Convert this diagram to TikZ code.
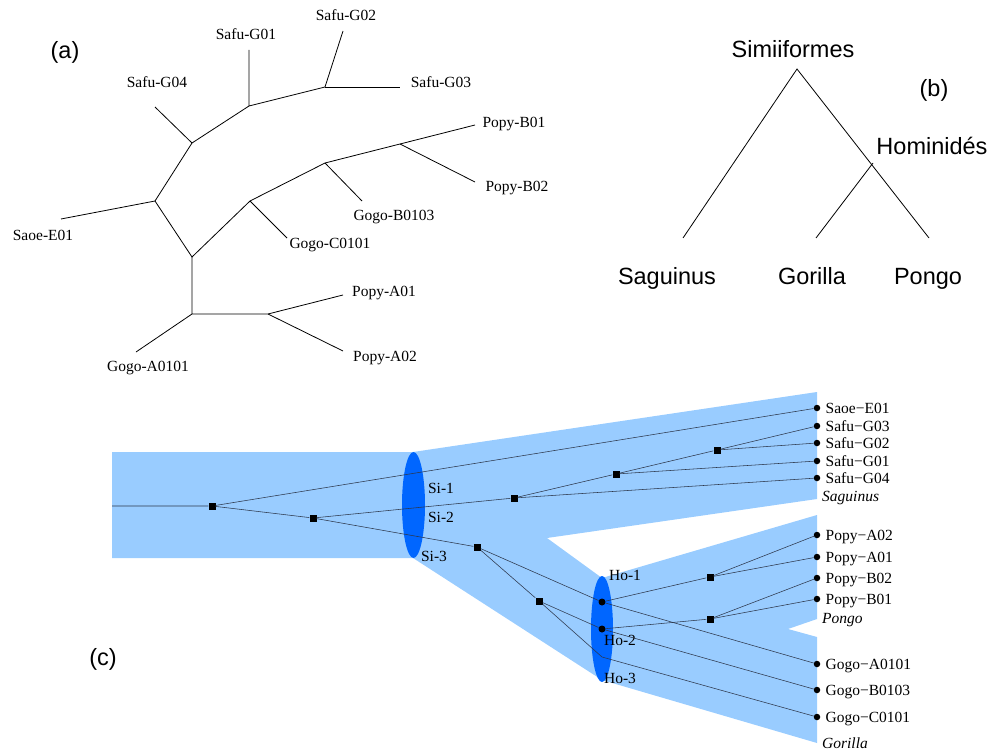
\documentclass[tikz,border=0pt]{standalone}
\usepackage{fontspec}
\setmainfont{Liberation Serif}
\setsansfont{Liberation Sans}
\usetikzlibrary{positioning}
\definecolor{bande}{RGB}{153,204,255}
\definecolor{ovale}{RGB}{0,102,255}
\definecolor{trait}{RGB}{45,55,75}
\begin{document}
\begin{tikzpicture}[x=1pt,y=-1pt,font=\fontsize{15.5}{18}\selectfont,
		etiq/.style={inner sep=0pt,text height=10pt,text depth=0pt},
		titre/.style={inner sep=0pt,font=\sffamily\fontsize{23.5}{28}\selectfont,text height=17pt,text depth=0pt},
		branche/.style={line width=0.8pt},
		lien/.style={draw=trait,line width=0.55pt},
		carre/.style={fill=black,minimum size=7pt,inner sep=0pt},
		rond/.style={circle,fill=black,minimum size=6.5pt,inner sep=0pt},
		espece/.style={etiq,anchor=west,font=\itshape\fontsize{15.5}{18}\selectfont}]
		\useasboundingbox (0,0) rectangle (994,752);
		% (a)
		\node[titre] (ta) at (65,50) {(a)};
		\coordinate (a1) at (249,106);
		\coordinate (a2) at (325,87);
		\coordinate (a3) at (192,143);
		\coordinate (a4) at (155,201);
		\coordinate (a5) at (192,257);
		\coordinate (a6) at (250,201);
		\coordinate (a7) at (325,163);
		\coordinate (a8) at (400,144);
		\coordinate (a9) at (192,314);
		\coordinate (a10) at (268,314);
		\coordinate (fG01) at (249,50);
		\coordinate (fG02) at (343,31);
		\coordinate (fG03) at (400,87);
		\coordinate (fG04) at (155,107);
		\coordinate (fE01) at (61,219);
		\coordinate (fC0101) at (287,238);
		\coordinate (fB0103) at (362,201);
		\coordinate (fB01) at (475,125);
		\coordinate (fB02) at (475,182);
		\coordinate (fA01) at (343,295);
		\coordinate (fA02) at (343,351);
		\coordinate (fA0101) at (136,352);
		\draw[branche] (fG01) -- (a1) -- (a2) -- (fG02);
		\draw[branche] (a2) -- (fG03);
		\draw[branche] (fG04) -- (a3) -- (a1);
		\draw[branche] (fE01) -- (a4) -- (a3);
		\draw[branche] (a4) -- (a5) -- (a6) -- (a7) -- (a8) -- (fB01);
		\draw[branche] (a6) -- (fC0101);
		\draw[branche] (a7) -- (fB0103);
		\draw[branche] (a8) -- (fB02);
		\draw[branche] (a5) -- (a9) -- (a10) -- (fA01);
		\draw[branche] (a10) -- (fA02);
		\draw[branche] (a9) -- (fA0101);
		\node[etiq] (lG01) at (246,35) {Safu-G01};
		\node[etiq] (lG02) at (346,16) {Safu-G02};
		\node[etiq] (lG03) at (441,83) {Safu-G03};
		\node[etiq] (lG04) at (157,83) {Safu-G04};
		\node[etiq] (lE01) at (43,235) {Saoe-E01};
		\node[etiq] (lC0101) at (330,243) {Gogo-C0101};
		\node[etiq] (lB0103) at (394,215) {Gogo-B0103};
		\node[etiq] (lB01) at (514,122) {Popy-B01};
		\node[etiq] (lB02) at (517,186) {Popy-B02};
		\node[etiq] (lA01) at (384,291) {Popy-A01};
		\node[etiq] (lA02) at (385,356) {Popy-A02};
		\node[etiq] (lA0101) at (148,366) {Gogo-A0101};
		% (b)
		\node[titre] (tb) at (934,88) {(b)};
		\node[titre] (simi) at (793,49) {Simiiformes};
		\node[titre] (homi) at (932,146) {Hominidés};
		\coordinate (b0) at (797,69);
		\coordinate (b1) at (873,163);
		\coordinate (bS) at (683,238);
		\coordinate (bG) at (816,238);
		\coordinate (bP) at (929,238);
		\draw[branche] (bS) -- (b0) -- (bP);
		\draw[branche] (b1) -- (bG);
		\node[titre] (sagu) at (667,276) {Saguinus};
		\node[titre] (gori) at (812,276) {Gorilla};
		\node[titre] (pong) at (928,276) {Pongo};
		% (c)
		\node[titre] (tc) at (103,657) {(c)};
		\fill[bande] (112,452) -- (413,452) -- (817,392) -- (817,499) -- (547,538) -- (602,578)
			-- (817,515) -- (817,619) -- (788,629) -- (817,637) -- (817,743) -- (602,680)
			-- (413,558) -- (112,558) -- cycle;
		\fill[ovale] (413.5,505) ellipse (11.5pt and 53pt);
		\fill[ovale] (602,629) ellipse (11pt and 53pt);
		\node[etiq] (si1) at (441,488) {Si-1};
		\node[etiq] (si2) at (441,517) {Si-2};
		\node[etiq] (si3) at (434,556) {Si-3};
		\node[etiq] (ho1) at (625,575) {Ho-1};
		\node[etiq] (ho2) at (620,640) {Ho-2};
		\node[etiq] (ho3) at (620,678) {Ho-3};
		\coordinate (c0) at (112,506);
		\node[carre] (s1) at (212,506) {};
		\node[carre] (s2) at (313,518) {};
		\node[carre] (s3) at (514,498) {};
		\node[carre] (s4) at (616,474) {};
		\node[carre] (s5) at (717,450) {};
		\node[carre] (s6) at (477,547) {};
		\node[carre] (s7) at (539,601) {};
		\node[carre] (s8) at (710,577) {};
		\node[carre] (s9) at (710,619) {};
		\node[rond,minimum size=7pt] (h1) at (602,602) {};
		\node[rond,minimum size=7pt] (h2) at (602,629) {};
		\coordinate (h3) at (602,657);
		\node[rond] (dE01) at (817,408) {};
		\node[rond] (dG03) at (817,426) {};
		\node[rond] (dG02) at (817,443) {};
		\node[rond] (dG01) at (817,461) {};
		\node[rond] (dG04) at (817,478) {};
		\node[rond] (dA02) at (817,535) {};
		\node[rond] (dA01) at (817,557) {};
		\node[rond] (dB02) at (817,578) {};
		\node[rond] (dB01) at (817,599) {};
		\node[rond] (dA0101) at (817,664) {};
		\node[rond] (dB0103) at (817,690) {};
		\node[rond] (dC0101) at (817,717) {};
		\draw[lien] (c0) -- (s1) -- (dE01);
		\draw[lien] (s1) -- (s2) -- (s3) -- (dG04);
		\draw[lien] (s3) -- (s4) -- (dG01);
		\draw[lien] (s4) -- (s5) -- (dG03);
		\draw[lien] (s5) -- (dG02);
		\draw[lien] (s2) -- (s6) -- (h1) -- (dA0101);
		\draw[lien] (s6) -- (s7) -- (h2) -- (dB0103);
		\draw[lien] (s7) -- (h3) -- (dC0101);
		\draw[lien] (h1) -- (s8) -- (dA02);
		\draw[lien] (s8) -- (dA01);
		\draw[lien] (h2) -- (s9) -- (dB02);
		\draw[lien] (s9) -- (dB01);
		\node[etiq,right=5pt of dE01] (nE01) {Saoe−E01};
		\node[etiq,right=5pt of dG03] (nG03) {Safu−G03};
		\node[etiq,right=5pt of dG02] (nG02) {Safu−G02};
		\node[etiq,right=5pt of dG01] (nG01) {Safu−G01};
		\node[etiq,right=5pt of dG04] (nG04) {Safu−G04};
		\node[espece] (eSag) at (822,496) {Saguinus};
		\node[etiq,right=5pt of dA02] (nA02) {Popy−A02};
		\node[etiq,right=5pt of dA01] (nA01) {Popy−A01};
		\node[etiq,right=5pt of dB02] (nB02) {Popy−B02};
		\node[etiq,right=5pt of dB01] (nB01) {Popy−B01};
		\node[espece] (ePon) at (822,618) {Pongo};
		\node[etiq,right=5pt of dA0101] (nA0101) {Gogo−A0101};
		\node[etiq,right=5pt of dB0103] (nB0103) {Gogo−B0103};
		\node[etiq,right=5pt of dC0101] (nC0101) {Gogo−C0101};
		\node[espece] (eGor) at (822,743) {Gorilla};
	\end{tikzpicture}
\end{document}
